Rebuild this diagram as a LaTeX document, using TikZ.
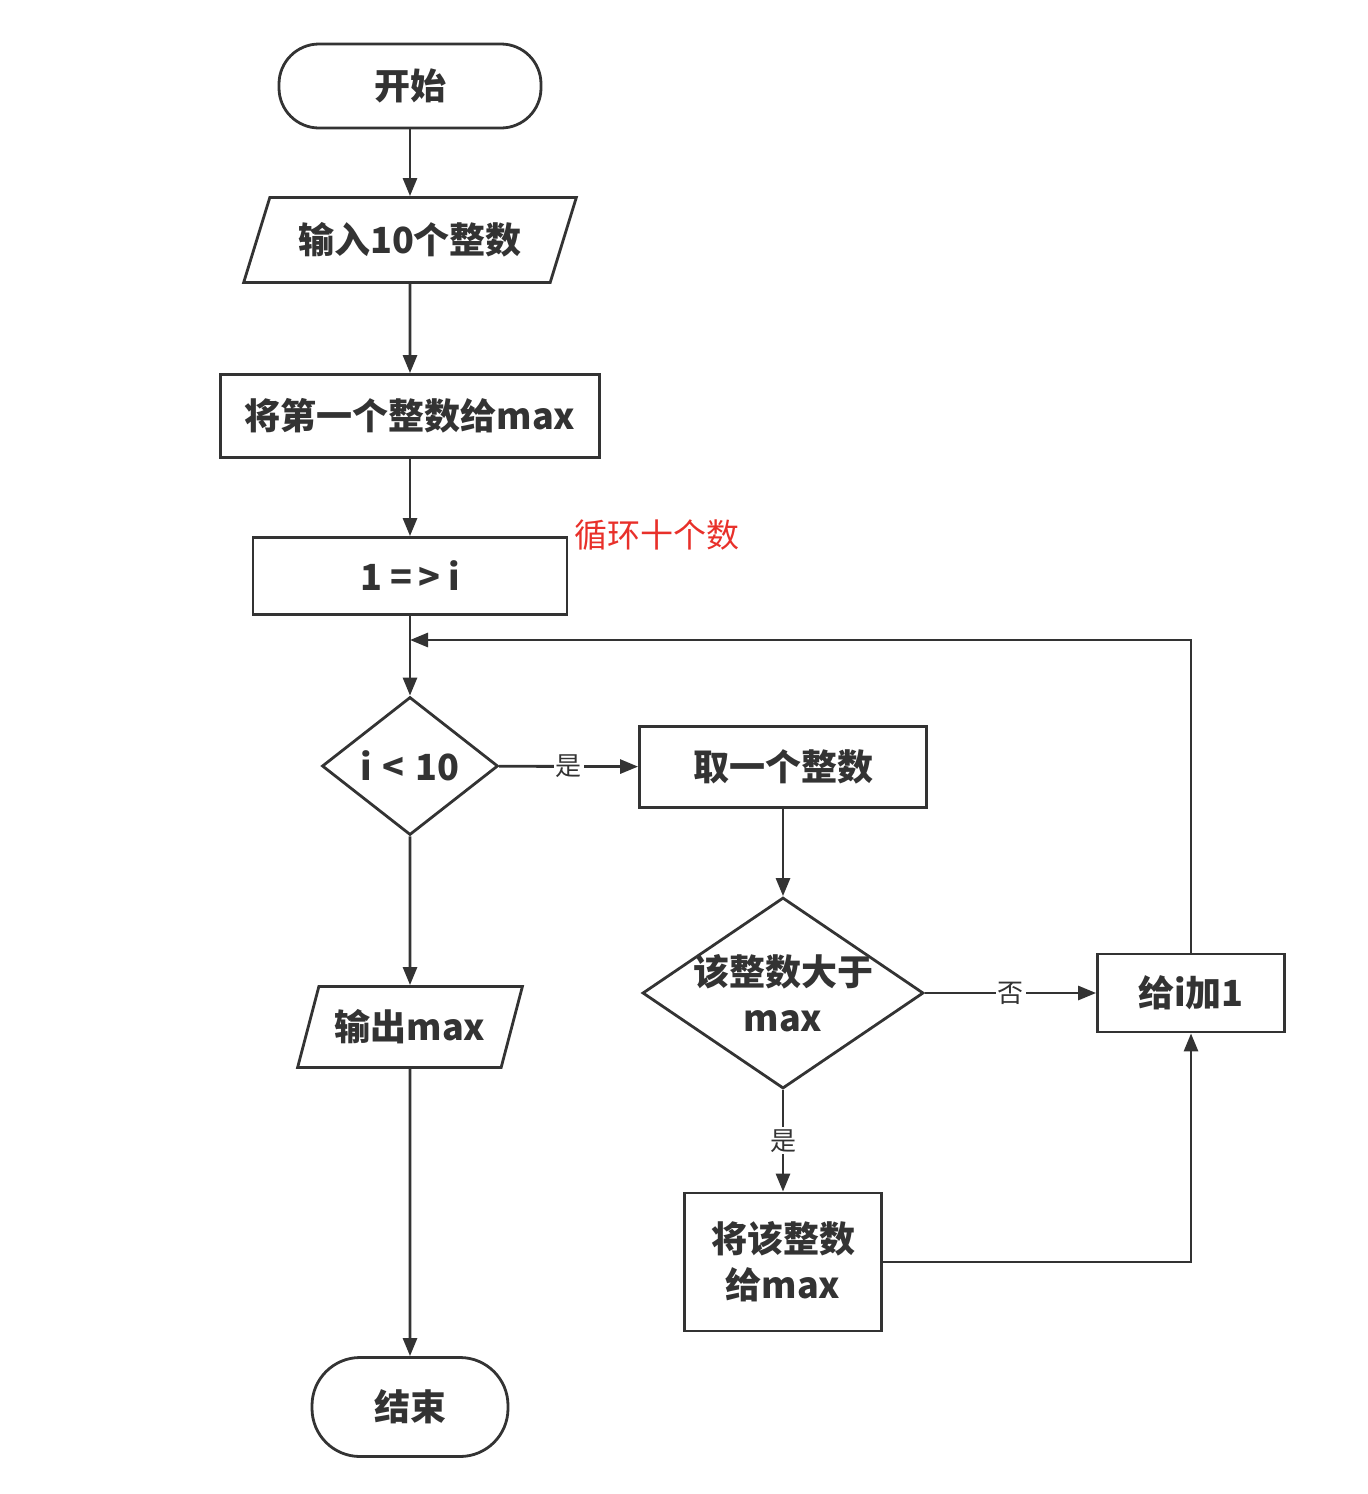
\documentclass[tikz,border=0pt]{standalone}
\usepackage{fontspec}
\setmainfont{Noto Sans CJK SC}
\usepackage{tikz}
\usetikzlibrary{positioning,shapes.geometric,arrows.meta}
\definecolor{ink}{HTML}{333333}
\definecolor{note}{HTML}{E8302A}

\begin{document}
\begin{tikzpicture}[x=0.5pt,y=-0.5pt,>={Triangle[length=9pt,width=7pt]},line width=1.4pt,color=ink]

\tikzstyle{term}=[rectangle,draw,rounded corners=20pt,font=\fontsize{18}{23}\selectfont\bfseries]
\tikzstyle{proc}=[rectangle,draw,inner sep=0pt,font=\fontsize{18}{23}\selectfont\bfseries]
\tikzstyle{io}=[trapezium,draw,trapezium stretches=true,inner sep=0pt,font=\fontsize{18}{23}\selectfont\bfseries]
\tikzstyle{dec}=[diamond,draw,inner sep=0pt,font=\fontsize{18}{23}\selectfont\bfseries]
\tikzstyle{lab}=[fill=white,inner sep=1pt,font=\fontsize{13}{15}\selectfont]

\useasboundingbox (0,0) rectangle (1367,1494);

\node[term,minimum width=131pt,minimum height=42pt] (start) at (410,86) {开始};
\node[io,trapezium left angle=59,trapezium right angle=121,minimum width=166.5pt,minimum height=42.5pt] (input) at (410,240) {输入10个整数};
\node[proc,minimum width=189.5pt,minimum height=41.5pt] (first) at (410,416) {将第一个整数给max};
\node[proc,minimum width=157pt,minimum height=38.5pt] (seti) at (410,576) {1 =\,> i};
\node[text=note,font=\fontsize{16.5}{18}\selectfont] (loop) at (657,535) {循环十个数};
\node[dec,aspect=1.275,minimum width=88pt,minimum height=69pt] (cond) at (410,766) {i\hspace{0.3em}<\hspace{0.3em}10};
\node[proc,minimum width=143.5pt,minimum height=40.5pt] (take) at (783,767) {取一个整数};
\node[dec,aspect=1.47,inner sep=-3pt,minimum width=140.5pt,minimum height=95.5pt,align=center] (cmp) at (783,993) {该整数大于\\max};
\node[proc,minimum width=93.5pt,minimum height=39pt] (inc) at (1191,993) {给i加1};
\node[proc,minimum width=98.5pt,minimum height=69pt,align=center] (assign) at (783,1262) {将该整数\\给max};
\node[io,trapezium left angle=63,trapezium right angle=117,minimum width=113pt,minimum height=40.5pt] (output) at (410,1027) {输出max};
\node[term,minimum width=98pt,minimum height=49.5pt,rounded corners=24pt] (stop) at (410,1407) {结束};
\coordinate (join) at (410,640);

\foreach \a/\b in {start/input,input/first,first/seti,seti/cond,cond/output,output/stop,take/cmp}
    \draw[->] (\a) -- (\b);

\draw[->] (cond) -- node[lab] {是} (take);
\draw[->] (cmp) -- node[lab] {否} (inc);
\draw[->] (cmp) -- node[lab] {是} (assign);
\draw[->] (inc) |- (join);
\draw[->] (assign) -| (inc);

\end{tikzpicture}
\end{document}
